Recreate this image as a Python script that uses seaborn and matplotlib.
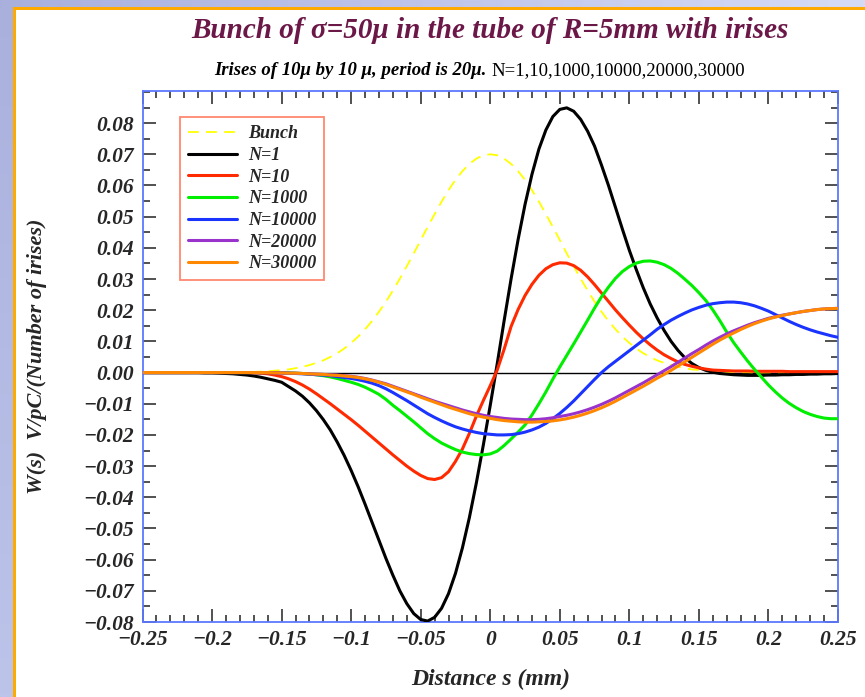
import numpy as np
import pandas as pd
import matplotlib
matplotlib.use("Agg")
import matplotlib.pyplot as plt
import seaborn as sns
from matplotlib.ticker import MultipleLocator, FixedLocator, FuncFormatter

# Longitudinal coordinate s (mm), 0.005 mm step from -0.25 to 0.25
s_mm = [round(-0.25 + 0.005 * i, 3) for i in range(101)]

bunch = [0.0, 0.0, 0.0, 0.0, 0.0, 0.0, 0.0, 0.0, 0.0, 0.0,
         0.0, 0.0, 0.0, 0.0001, 0.0001, 0.0002, 0.0002, 0.0003, 0.0004, 0.0006,
         0.0008, 0.0010, 0.0014, 0.0018, 0.0024, 0.0031, 0.0039, 0.0050, 0.0062, 0.0077,
         0.0095, 0.0115, 0.0139, 0.0165, 0.0195, 0.0227, 0.0263, 0.0301, 0.0341, 0.0382,
         0.0425, 0.0467, 0.0508, 0.0548, 0.0585, 0.0618, 0.0646, 0.0669, 0.0686, 0.0697,
         0.0700,
         0.0697, 0.0686, 0.0669, 0.0646, 0.0618, 0.0585, 0.0548, 0.0508, 0.0467, 0.0425,
         0.0382, 0.0341, 0.0301, 0.0263, 0.0227, 0.0195, 0.0165, 0.0139, 0.0115, 0.0095,
         0.0077, 0.0062, 0.0050, 0.0039, 0.0031, 0.0024, 0.0018, 0.0014, 0.0010, 0.0008,
         0.0006, 0.0004, 0.0003, 0.0002, 0.0002, 0.0001, 0.0001, 0.0, 0.0, 0.0,
         0.0, 0.0, 0.0, 0.0, 0.0, 0.0, 0.0, 0.0, 0.0, 0.0]

w_n1 = [0.0, 0.0, 0.0, 0.0, 0.0, 0.0, 0.0, 0.0, 0.0, -0.0001,
        -0.0001, -0.0002, -0.0003, -0.0004, -0.0006, -0.0008, -0.0011, -0.0015, -0.0020, -0.0025,
        -0.0031, -0.0045, -0.0059, -0.0076, -0.0097, -0.0122, -0.0151, -0.0184, -0.0223, -0.0266,
        -0.0314, -0.0366, -0.0422, -0.0480, -0.0538, -0.0596, -0.0650, -0.0700, -0.0741, -0.0773,
        -0.0792, -0.0797, -0.0785, -0.0756, -0.0709, -0.0644, -0.0562, -0.0465, -0.0354, -0.0233,
        -0.0105,
        0.0028, 0.0167, 0.0301, 0.0426, 0.0539, 0.0636, 0.0717, 0.0778, 0.0821, 0.0844,
        0.0849, 0.0838, 0.0812, 0.0774, 0.0726, 0.0665, 0.0600, 0.0530, 0.0460, 0.0392,
        0.0330, 0.0272, 0.0220, 0.0175, 0.0135, 0.0100, 0.0071, 0.0047, 0.0029, 0.0016,
        0.0007, 0.0001, -0.0003, -0.0005, -0.0007, -0.0008, -0.0009, -0.0009, -0.0009, -0.0008,
        -0.0008, -0.0007, -0.0007, -0.0006, -0.0006, -0.0005, -0.0005, -0.0004, -0.0004, -0.0003]

w_n10 = [0.0, 0.0, 0.0, 0.0, 0.0, 0.0, 0.0, 0.0, 0.0, 0.0,
         0.0, 0.0, 0.0, 0.0, 0.0, 0.0, -0.0001, -0.0002, -0.0004, -0.0008,
         -0.0013, -0.0020, -0.0029, -0.0040, -0.0053, -0.0068, -0.0084, -0.0100, -0.0117, -0.0134,
         -0.0151, -0.0169, -0.0188, -0.0207, -0.0226, -0.0245, -0.0264, -0.0282, -0.0300, -0.0316,
         -0.0330, -0.0340, -0.0343, -0.0337, -0.0318, -0.0285, -0.0245, -0.0195, -0.0140, -0.0090,
         -0.0042,
         0.0008, 0.0075, 0.0148, 0.0202, 0.0247, 0.0283, 0.0312, 0.0333, 0.0346, 0.0352,
         0.0351, 0.0343, 0.0328, 0.0307, 0.0282, 0.0255, 0.0228, 0.0201, 0.0176, 0.0152,
         0.0129, 0.0108, 0.0089, 0.0072, 0.0057, 0.0045, 0.0034, 0.0026, 0.0020, 0.0015,
         0.0011, 0.0008, 0.0007, 0.0006, 0.0005, 0.0005, 0.0005, 0.0004, 0.0004, 0.0004,
         0.0004, 0.0004, 0.0003, 0.0003, 0.0003, 0.0003, 0.0003, 0.0003, 0.0003, 0.0003]

w_n1000 = [0.0, 0.0, 0.0, 0.0, 0.0, 0.0, 0.0, 0.0, 0.0, 0.0,
           0.0, 0.0, 0.0, 0.0, 0.0, 0.0, 0.0, 0.0, 0.0, 0.0,
           0.0, -0.0001, -0.0002, -0.0003, -0.0005, -0.0007, -0.0010, -0.0014, -0.0019, -0.0025,
           -0.0031, -0.0038, -0.0047, -0.0058, -0.0070, -0.0086, -0.0105, -0.0122, -0.0140, -0.0158,
           -0.0177, -0.0196, -0.0212, -0.0226, -0.0237, -0.0247, -0.0255, -0.0260, -0.0263, -0.0264,
           -0.0261,
           -0.0252, -0.0234, -0.0213, -0.0191, -0.0168, -0.0136, -0.0100, -0.0062, -0.0021, 0.0018,
           0.0055, 0.0092, 0.0130, 0.0168, 0.0207, 0.0243, 0.0274, 0.0302, 0.0324, 0.0340,
           0.0351, 0.0357, 0.0358, 0.0354, 0.0346, 0.0334, 0.0318, 0.0299, 0.0279, 0.0256,
           0.0231, 0.0201, 0.0167, 0.0130, 0.0096, 0.0066, 0.0037, 0.0010, -0.0015, -0.0040,
           -0.0062, -0.0082, -0.0099, -0.0113, -0.0125, -0.0134, -0.0141, -0.0146, -0.0148, -0.0148]

w_n10000 = [0.0, 0.0, 0.0, 0.0, 0.0, 0.0, 0.0, 0.0, 0.0, 0.0,
            0.0, 0.0, 0.0, 0.0, 0.0, 0.0, 0.0, 0.0, 0.0, 0.0,
            -0.0001, -0.0002, -0.0003, -0.0004, -0.0005, -0.0007, -0.0008, -0.0010, -0.0013, -0.0016,
            -0.0019, -0.0023, -0.0028, -0.0034, -0.0042, -0.0052, -0.0064, -0.0077, -0.0090, -0.0104,
            -0.0118, -0.0132, -0.0144, -0.0155, -0.0165, -0.0174, -0.0181, -0.0187, -0.0192, -0.0196,
            -0.0198,
            -0.0200, -0.0200, -0.0199, -0.0196, -0.0191, -0.0184, -0.0175, -0.0163, -0.0148, -0.0131,
            -0.0112, -0.0091, -0.0068, -0.0045, -0.0022, 0.0000, 0.0019, 0.0036, 0.0053, 0.0070,
            0.0087, 0.0104, 0.0121, 0.0139, 0.0154, 0.0168, 0.0180, 0.0191, 0.0201, 0.0209,
            0.0216, 0.0221, 0.0224, 0.0226, 0.0226, 0.0224, 0.0220, 0.0214, 0.0206, 0.0197,
            0.0186, 0.0175, 0.0164, 0.0154, 0.0145, 0.0137, 0.0130, 0.0124, 0.0118, 0.0113]

w_n20000 = [0.0, 0.0, 0.0, 0.0, 0.0, 0.0, 0.0, 0.0, 0.0, 0.0,
            0.0, 0.0, 0.0, 0.0, 0.0, 0.0, 0.0, 0.0, 0.0, -0.0001,
            -0.0001, -0.0002, -0.0002, -0.0003, -0.0004, -0.0005, -0.0006, -0.0007, -0.0008, -0.0010,
            -0.0012, -0.0015, -0.0019, -0.0024, -0.0030, -0.0036, -0.0044, -0.0052, -0.0060, -0.0068,
            -0.0076, -0.0084, -0.0092, -0.0099, -0.0106, -0.0113, -0.0120, -0.0126, -0.0132, -0.0137,
            -0.0141,
            -0.0144, -0.0147, -0.0149, -0.0150, -0.0151, -0.0151, -0.0150, -0.0148, -0.0145, -0.0141,
            -0.0137, -0.0132, -0.0126, -0.0119, -0.0111, -0.0102, -0.0092, -0.0081, -0.0069, -0.0057,
            -0.0045, -0.0033, -0.0020, -0.0007, 0.0006, 0.0019, 0.0033, 0.0047, 0.0061, 0.0074,
            0.0088, 0.0101, 0.0113, 0.0124, 0.0134, 0.0143, 0.0152, 0.0160, 0.0167, 0.0174,
            0.0179, 0.0184, 0.0188, 0.0192, 0.0196, 0.0199, 0.0202, 0.0204, 0.0205, 0.0206]

w_n30000 = [0.0, 0.0, 0.0, 0.0, 0.0, 0.0, 0.0, 0.0, 0.0, 0.0,
            0.0, 0.0, 0.0, 0.0, 0.0, 0.0, 0.0, 0.0, 0.0, -0.0001,
            -0.0001, -0.0002, -0.0002, -0.0003, -0.0004, -0.0005, -0.0006, -0.0008, -0.0009, -0.0011,
            -0.0013, -0.0016, -0.0020, -0.0025, -0.0031, -0.0038, -0.0046, -0.0054, -0.0062, -0.0070,
            -0.0079, -0.0087, -0.0095, -0.0103, -0.0111, -0.0118, -0.0125, -0.0132, -0.0138, -0.0143,
            -0.0147,
            -0.0151, -0.0154, -0.0156, -0.0158, -0.0159, -0.0159, -0.0158, -0.0157, -0.0155, -0.0152,
            -0.0148, -0.0143, -0.0137, -0.0130, -0.0122, -0.0113, -0.0103, -0.0092, -0.0080, -0.0068,
            -0.0056, -0.0044, -0.0031, -0.0018, -0.0006, 0.0007, 0.0021, 0.0035, 0.0049, 0.0063,
            0.0077, 0.0091, 0.0104, 0.0116, 0.0127, 0.0138, 0.0148, 0.0157, 0.0165, 0.0172,
            0.0178, 0.0183, 0.0188, 0.0192, 0.0196, 0.0199, 0.0202, 0.0204, 0.0205, 0.0206]

series_labels = ["Bunch", "N=1", "N=10", "N=1000", "N=10000", "N=20000", "N=30000"]
series_values = [bunch, w_n1, w_n10, w_n1000, w_n10000, w_n20000, w_n30000]
series_colors = ["#ffff00", "#000000", "#ff2a00", "#00ee00", "#1a33ff", "#9933cc", "#ff8800"]

x_ticks = [-0.25, -0.2, -0.15, -0.1, -0.05, 0, 0.05, 0.1, 0.15, 0.2, 0.25]
y_ticks = [-0.08, -0.07, -0.06, -0.05, -0.04, -0.03, -0.02, -0.01, 0.0,
           0.01, 0.02, 0.03, 0.04, 0.05, 0.06, 0.07, 0.08]

sns.set_theme(style="white")
plt.rcParams["font.family"] = ["Liberation Serif", "DejaVu Serif"]
plt.rcParams["axes.unicode_minus"] = True

fig = plt.figure(figsize=(8.65, 6.97), dpi=100)

# slide-style background: tinted strips on the left and top with an orange rule
W, H = 865, 697
bg = np.ones((H, W, 3))
left_col = np.linspace([0.663, 0.690, 0.863], [0.741, 0.769, 0.918], H)
bg[:, :13, :] = left_col[:, None, :]
top_row = np.linspace([0.663, 0.690, 0.863], [0.839, 0.859, 0.961], W)
bg[:7, :, :] = top_row[None, :, :]
orange = np.array([1.0, 0.667, 0.0])
bg[7:10, 13:, :] = orange
bg[7:, 13:16, :] = orange
ax_bg = fig.add_axes([0, 0, 1, 1], zorder=-5)
ax_bg.imshow(bg, aspect="auto", interpolation="nearest")
ax_bg.axis("off")

ax = fig.add_axes([142.5 / W, 1 - 622 / H, (838 - 142.5) / W, (622 - 91) / H])
ax.set_facecolor("white")

ax.axhline(0, color="black", lw=1.0, zorder=1)

df = pd.DataFrame({"s": s_mm})
for lab, vals, col in zip(series_labels, series_values, series_colors):
    df[lab] = vals
    if lab == "Bunch":
        sns.lineplot(x="s", y=lab, data=df, ax=ax, color=col, lw=1.3,
                     linestyle=(0, (6, 4)), label=lab, zorder=2)
    else:
        sns.lineplot(x="s", y=lab, data=df, ax=ax, color=col, lw=2.2,
                     label=lab, zorder=3)

ax.set_xlim(-0.25, 0.25)
ax.set_ylim(-0.08, 0.0903)

ax.xaxis.set_major_locator(FixedLocator(x_ticks))
ax.xaxis.set_minor_locator(MultipleLocator(0.01))
ax.yaxis.set_major_locator(FixedLocator(y_ticks))
ax.yaxis.set_minor_locator(MultipleLocator(0.005))


def fmt_x(v, pos):
    if abs(v) < 1e-9:
        return "0"
    return ("%g" % round(v, 3)).replace("-", "\u2212")


def fmt_y(v, pos):
    return ("%.2f" % v).replace("-", "\u2212") if abs(v) > 1e-9 else "0.00"


ax.xaxis.set_major_formatter(FuncFormatter(fmt_x))
ax.yaxis.set_major_formatter(FuncFormatter(fmt_y))

ax.tick_params(which="both", direction="in", top=True, right=True,
               bottom=True, left=True, color="#222222", width=1.1)
ax.tick_params(which="major", length=9.5)
ax.tick_params(which="minor", length=4.8)
ax.tick_params(axis="both", which="major", labelsize=15.5, pad=6)
for lab in ax.get_xticklabels() + ax.get_yticklabels():
    lab.set_fontweight("bold")
    lab.set_fontstyle("italic")

for sp in ax.spines.values():
    sp.set_visible(True)
    sp.set_color("#5a78ff")
    sp.set_linewidth(1.3)

ax.set_xlabel("Distance s (mm)", fontsize=17, fontweight="bold",
              fontstyle="italic", labelpad=13)
ax.set_ylabel("W(s)  V/pC/(Number of irises)", fontsize=16, fontweight="bold",
              fontstyle="italic", labelpad=26)

leg = ax.legend(loc="upper left", bbox_to_anchor=(0.054, 0.951), frameon=True,
                fancybox=False, borderaxespad=0, handlelength=2.7,
                handletextpad=0.6, borderpad=0.45, labelspacing=0.26,
                prop={"family": "Liberation Serif", "weight": "bold",
                      "style": "italic", "size": 13})
leg.get_frame().set_edgecolor("#ff6a4d")
leg.get_frame().set_linewidth(1.3)

fig.text(490 / W, 1 - 30 / H, "Bunch of \u03c3=50\u03bc in the tube of R=5mm with irises",
         ha="center", va="center", fontsize=21, fontweight="bold",
         fontstyle="italic", color="#6b1848")

sub1 = fig.text(214 / W, 1 - 75 / H, "Irises of 10\u03bc by 10 \u03bc, period is 20\u03bc. ",
                ha="left", va="baseline", fontsize=13.5, fontweight="bold",
                fontstyle="italic", color="black")
fig.text(0, 0, "N=1,10,1000,10000,20000,30000", fontsize=13.5, color="black",
         ha="left", va="baseline",
         transform=matplotlib.transforms.offset_copy(sub1.get_transform(), fig=fig),
         visible=False)
ax.annotate("N=1,10,1000,10000,20000,30000", xy=(1, 0), xycoords=sub1,
            va="bottom", ha="left", fontsize=13.5, color="black",
            annotation_clip=False)

fig.savefig("out.png", dpi=100)
